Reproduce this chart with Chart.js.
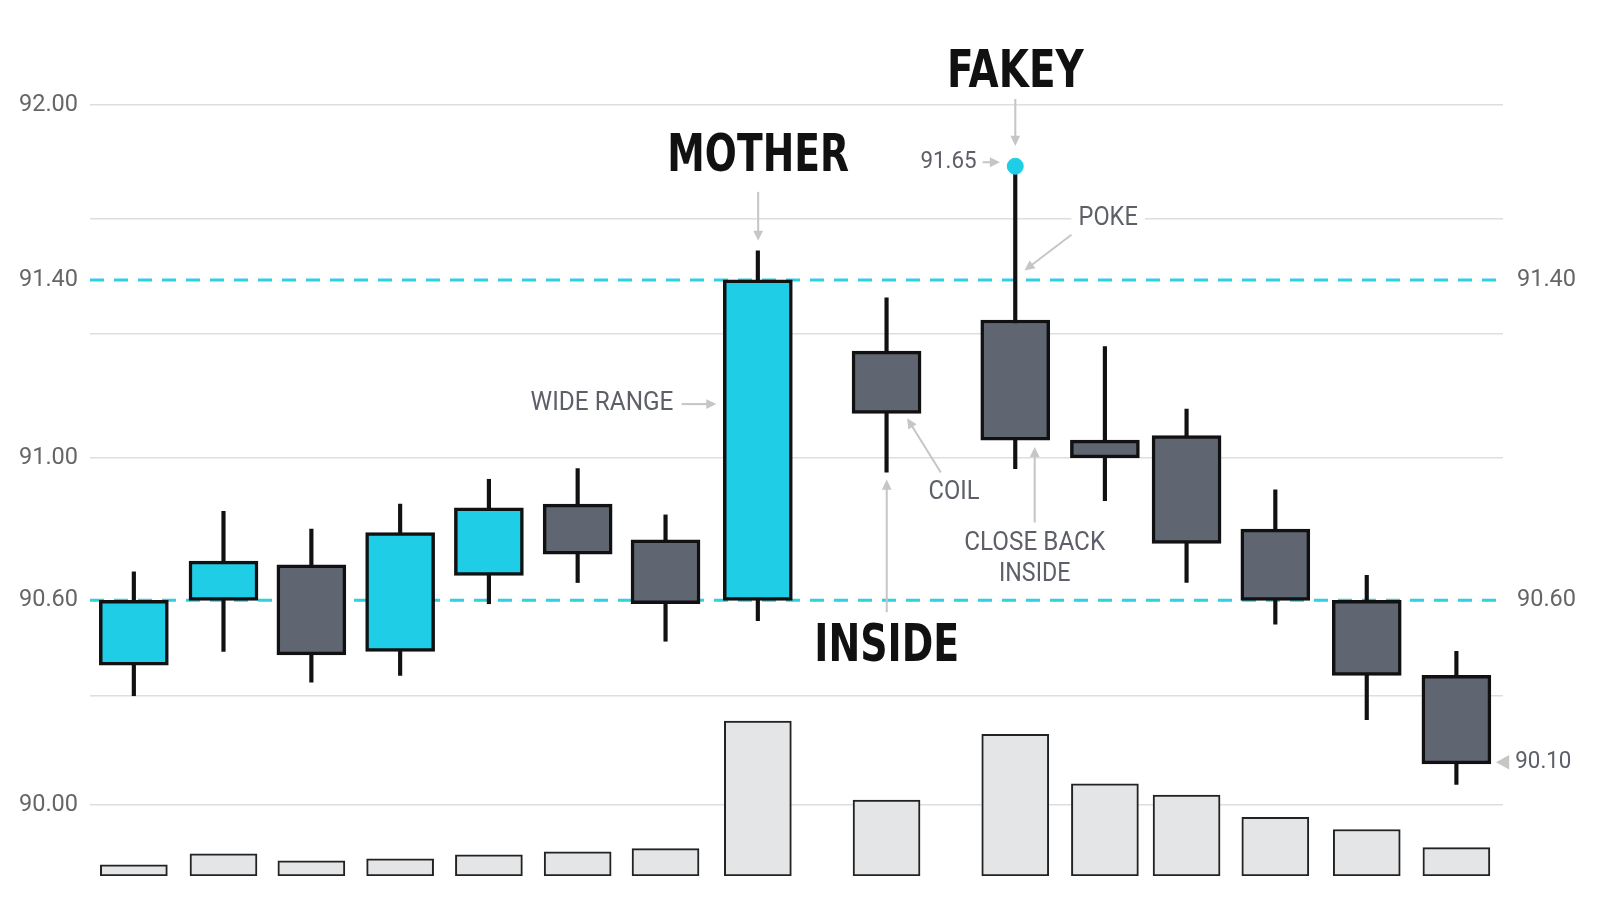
<!DOCTYPE html>
<html>
<head>
<meta charset="utf-8">
<script src="https://cdn.jsdelivr.net/npm/chart.js@4/dist/chart.umd.min.js"></script>
<style>
  html, body { margin: 0; background: #fff; overflow: hidden; }
  #wrap { width: 1600px; height: 914px; }
  canvas { display: block; }
</style>
</head>
<body>
<div id="wrap"><canvas id="chart"></canvas></div>
<script>
// candle slots (x), OHLC and volume
const xs     = [1.0, 2.01, 3.0, 4.0, 5.0, 6.0, 6.99, 8.03, 9.48, 10.93, 11.94, 12.86, 13.86, 14.89, 15.9];
const opens  = [90.41, 90.60, 90.70, 90.45, 90.67, 90.87, 90.77, 90.60, 91.24, 91.31, 91.04, 91.05, 90.80, 90.60, 90.38];
const closes = [90.60, 90.71, 90.44, 90.79, 90.86, 90.73, 90.59, 91.40, 91.10, 91.04, 91.00, 90.76, 90.60, 90.38, 90.12];
const highs  = [90.68, 90.85, 90.80, 90.87, 90.94, 90.97, 90.84, 91.50, 91.36, 91.79, 91.25, 91.11, 90.91, 90.67, 90.45];
const lows   = [90.32, 90.45, 90.36, 90.38, 90.59, 90.65, 90.48, 90.54, 90.96, 90.97, 90.88, 90.65, 90.53, 90.25, 90.06];
const volume = [11, 22, 15, 17, 21, 24, 27, 153, 75, 140, 91, 80, 58, 46, 28];

const labelTicks = [92.0, 91.4, 91.0, 90.6, 90.0];
const gridTicks  = [92.0, 91.61, 91.4, 91.28, 91.0, 90.6, 90.32, 90.0];
const rightTicks = [91.4, 90.6];
const levels     = [91.4, 90.6];

// the price axis of the picture is not evenly spaced: piecewise knots (value -> fraction of height)
const knotV = [89.79, 90.0, 90.6, 91.0, 91.4, 92.0, 92.28];
const knotT = [0, 0.084, 0.3251, 0.4931, 0.703, 0.9093, 1];

const CYAN = '#1fcde6', GREY = '#5f6571';
const K = 1600 / 1568;

class PiecewiseScale extends Chart.LinearScale {
  frac(v) {
    if (v <= knotV[0]) return knotT[0] + (v - knotV[0]) * (knotT[1] - knotT[0]) / (knotV[1] - knotV[0]);
    for (let i = 1; i < knotV.length; i++) {
      if (v <= knotV[i]) return knotT[i-1] + (v - knotV[i-1]) * (knotT[i] - knotT[i-1]) / (knotV[i] - knotV[i-1]);
    }
    const n = knotV.length - 1;
    return knotT[n] + (v - knotV[n]) * (knotT[n] - knotT[n-1]) / (knotV[n] - knotV[n-1]);
  }
  getPixelForValue(v) { return this.bottom - this.frac(v) * (this.bottom - this.top); }
  getValueForPixel(p) {
    const t = (this.bottom - p) / (this.bottom - this.top);
    for (let i = 1; i < knotT.length; i++) {
      if (t <= knotT[i] || i === knotT.length - 1)
        return knotV[i-1] + (t - knotT[i-1]) * (knotV[i] - knotV[i-1]) / (knotT[i] - knotT[i-1]);
    }
  }
}
PiecewiseScale.id = 'piecewise';
PiecewiseScale.defaults = Chart.LinearScale.defaults;
Chart.register(PiecewiseScale);

const bodies = xs.map((x, i) => ({ x: x, y: [opens[i], closes[i]] }));
const wicks  = xs.map((x, i) => ({ x: x, y: [lows[i], highs[i]] }));
const bodyColors = xs.map((x, i) => closes[i] >= opens[i] ? CYAN : GREY);
const vols = xs.map((x, i) => ({ x: x, y: volume[i] }));

function drawText(ctx, txt, x, y, font, color, width, align) {
  ctx.save();
  ctx.font = font;
  ctx.fillStyle = color;
  ctx.textBaseline = 'middle';
  const w = ctx.measureText(txt).width;
  const s = width ? width / w : 1;
  let left = x;
  if (align === 'center') left = x - w * s / 2;
  if (align === 'right') left = x - w * s;
  ctx.translate(left, y);
  ctx.scale(s, 1);
  ctx.textAlign = 'left';
  ctx.fillText(txt, 0, 0);
  ctx.restore();
}
function arrow(ctx, x1, y1, x2, y2) {
  const a = Math.atan2(y2 - y1, x2 - x1), h = 11;
  ctx.save();
  ctx.strokeStyle = '#c6c6c6'; ctx.fillStyle = '#c6c6c6'; ctx.lineWidth = 2;
  ctx.beginPath(); ctx.moveTo(x1, y1); ctx.lineTo(x2 - Math.cos(a) * 6, y2 - Math.sin(a) * 6); ctx.stroke();
  ctx.beginPath(); ctx.moveTo(x2, y2);
  ctx.lineTo(x2 - h * Math.cos(a - 0.45), y2 - h * Math.sin(a - 0.45));
  ctx.lineTo(x2 - h * Math.cos(a + 0.45), y2 - h * Math.sin(a + 0.45));
  ctx.closePath(); ctx.fill();
  ctx.restore();
}

const notes = {
  id: 'notes',
  afterDraw(chart) {
    const ctx = chart.ctx;
    ctx.save();
    ctx.scale(K, K);
    const big = 'bold 50px "DejaVu Sans Condensed", "Liberation Sans Narrow", sans-serif';
    const small = '25px "Roboto", "DejaVu Sans Condensed", sans-serif';
    const g = '#5d6068';
    drawText(ctx, 'MOTHER', 743, 155, big, '#111', 178, 'center');
    arrow(ctx, 743, 188, 743, 236);
    drawText(ctx, 'FAKEY', 995, 72, big, '#111', 134, 'center');
    arrow(ctx, 995, 97, 995, 143);
    drawText(ctx, '91.65', 957, 159, '23px "Roboto", sans-serif', g, 55, 'right');
    arrow(ctx, 963, 159, 980, 159);
    ctx.fillStyle = '#fff'; ctx.fillRect(1050, 200, 72, 28);
    drawText(ctx, 'POKE', 1086, 214, small, g, 58, 'center');
    arrow(ctx, 1050, 230, 1004, 265);
    drawText(ctx, 'WIDE RANGE', 590, 396, small, g, 140, 'center');
    arrow(ctx, 668, 396, 702, 396);
    drawText(ctx, 'COIL', 935, 483, small, g, 50, 'center');
    arrow(ctx, 922, 463, 889, 410);
    drawText(ctx, 'INSIDE', 869, 635, big, '#111', 142, 'center');
    arrow(ctx, 869, 600, 869, 470);
    drawText(ctx, 'CLOSE BACK', 1014, 533, small, g, 138, 'center');
    drawText(ctx, 'INSIDE', 1014, 563, small, g, 70, 'center');
    arrow(ctx, 1014, 512, 1014, 438);
    ctx.fillStyle = '#c6c6c6';
    ctx.beginPath(); ctx.moveTo(1466, 747); ctx.lineTo(1479, 740); ctx.lineTo(1479, 754); ctx.closePath(); ctx.fill();
    drawText(ctx, '90.10', 1485, 747, '23px "Roboto", sans-serif', g, 55, 'left');
    ctx.restore();
  }
};

new Chart(document.getElementById('chart'), {
  data: {
    datasets: [
      { type: 'line', data: [{ x: 0.506, y: levels[0] }, { x: 16.425, y: levels[0] }], borderColor: '#2fd0e0', borderWidth: 3, borderDash: [14, 10], pointRadius: 0, yAxisID: 'y', order: 5 },
      { type: 'line', data: [{ x: 0.506, y: levels[1] }, { x: 16.425, y: levels[1] }], borderColor: '#2fd0e0', borderWidth: 3, borderDash: [14, 10], pointRadius: 0, yAxisID: 'y', order: 5 },
      { type: 'bar', data: vols, yAxisID: 'yv', backgroundColor: '#e4e5e7', borderColor: '#222', borderWidth: 2, borderSkipped: false, barThickness: 67, grouped: false, order: 4 },
      { type: 'bar', data: wicks, yAxisID: 'y', backgroundColor: '#111', barThickness: 3.5, grouped: false, order: 3 },
      { type: 'bar', data: bodies, yAxisID: 'y', backgroundColor: bodyColors, borderColor: '#111', borderWidth: 3.5, borderSkipped: false, barThickness: 69, grouped: false, order: 2 },
      { type: 'scatter', data: [{ x: xs[9], y: highs[9] }], yAxisID: 'y', backgroundColor: CYAN, borderColor: CYAN, pointRadius: 8, order: 1 }
    ]
  },
  options: {
    responsive: true,
    maintainAspectRatio: false,
    animation: false,
    layout: { padding: { top: 15, bottom: 38 } },
    plugins: { legend: { display: false }, tooltip: { enabled: false } },
    scales: {
      x: { type: 'linear', min: 0.506, max: 16.425, offset: false, display: false },
      y: {
        type: 'piecewise', position: 'left', min: 89.79, max: 92.28,
        afterBuildTicks: s => { s.ticks = gridTicks.map(v => ({ value: v })); },
        afterFit: s => { s.width = 90; },
        border: { display: false },
        grid: { color: c => levels.includes(c.tick.value) ? 'rgba(0,0,0,0)' : '#dedede', lineWidth: 1.5, drawTicks: false },
        ticks: {
          padding: 12, color: '#666', font: { family: 'Roboto', size: 23.5 },
          callback: v => labelTicks.includes(v) ? v.toFixed(2) : ''
        }
      },
      yr: {
        type: 'piecewise', position: 'right', min: 89.79, max: 92.28,
        afterBuildTicks: s => { s.ticks = rightTicks.map(v => ({ value: v })); },
        afterFit: s => { s.width = 97; },
        border: { display: false },
        grid: { display: false, drawTicks: false },
        ticks: { padding: 14, color: '#666', font: { family: 'Roboto', size: 23.5 }, callback: v => v.toFixed(2) }
      },
      yv: { type: 'linear', min: 0, max: 838, display: false }
    }
  },
  plugins: [notes]
});
</script>
</body>
</html>
